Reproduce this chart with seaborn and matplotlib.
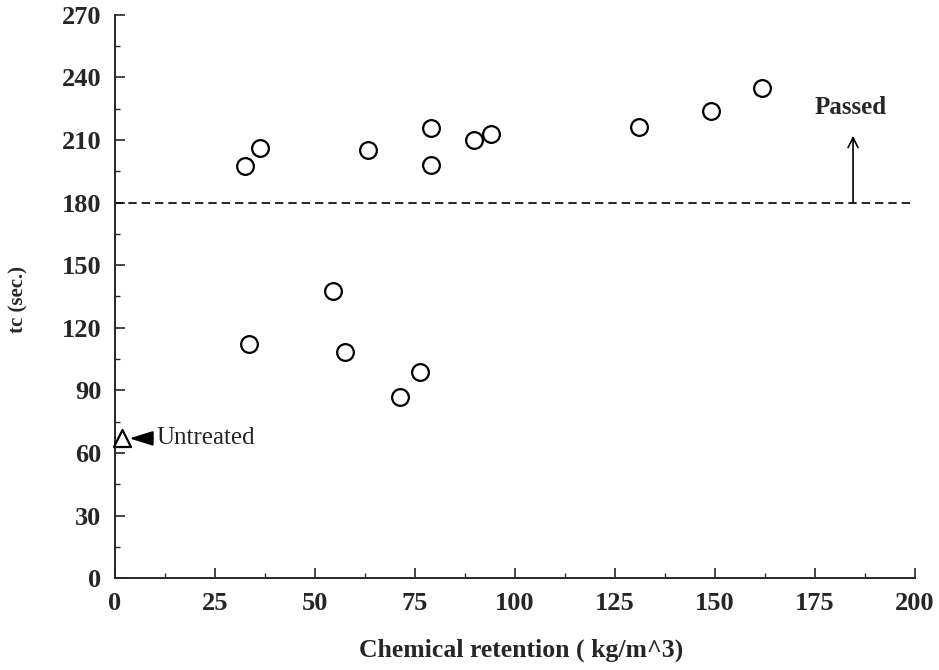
import pandas as pd
import seaborn as sns
import matplotlib.pyplot as plt
from matplotlib.ticker import MultipleLocator

# Treated specimens
retention = [32.5, 36.3, 63.3, 79.0, 79.0, 89.8, 94.0, 131.0, 149.0, 161.8,
             54.4, 33.5, 57.4, 76.3, 71.3]
tc = [197.5, 206.0, 205.0, 215.6, 198.0, 210.0, 213.0, 216.0, 224.0, 235.0,
      137.5, 112.0, 108.5, 99.0, 87.0]

# Untreated specimen
untreated_x = [1.7]
untreated_y = [67.0]

pass_limit = 180

sns.set_style("ticks")
plt.rcParams["font.family"] = ["Liberation Serif", "DejaVu Serif"]

data = pd.DataFrame({"retention": retention, "tc": tc})

fig = plt.figure(figsize=(9.39, 6.70), dpi=100)
ax = fig.add_axes([0.1225, 0.137, 0.852, 0.841])

sns.scatterplot(data=data, x="retention", y="tc", ax=ax, marker="o", s=145,
                facecolor="white", edgecolor="black", linewidth=1.6, zorder=3)
sns.scatterplot(x=untreated_x, y=untreated_y, ax=ax, marker="^", s=150,
                facecolor="white", edgecolor="black", linewidth=1.6, zorder=3,
                clip_on=False)

ax.axhline(pass_limit, color="black", ls=(0, (5, 3)), lw=1.2)

ax.annotate("Untreated", xy=(3.6, untreated_y[0]), xytext=(10.3, untreated_y[0]),
            va="center", ha="left", fontsize=18,
            arrowprops=dict(arrowstyle="-|>,head_length=0.8,head_width=0.25",
                            color="black", lw=1.4,
                            mutation_scale=18, shrinkA=0, shrinkB=0))
ax.annotate("", xy=(184.5, 212), xytext=(184.5, pass_limit),
            arrowprops=dict(arrowstyle="->", color="black", lw=1.2,
                            mutation_scale=18, shrinkA=0, shrinkB=0))
ax.text(184, 225.5, "Passed", ha="center", va="center", fontsize=18, fontweight="bold")

ax.set_xlim(0, 200)
ax.set_ylim(0, 270)
ax.xaxis.set_major_locator(MultipleLocator(25))
ax.xaxis.set_minor_locator(MultipleLocator(12.5))
ax.yaxis.set_major_locator(MultipleLocator(30))
ax.yaxis.set_minor_locator(MultipleLocator(15))
ax.tick_params(which="major", direction="in", length=7, width=1.2,
               labelsize=19, pad=10)
ax.tick_params(which="minor", direction="in", length=3.5, width=1.0)
for lab in ax.get_xticklabels() + ax.get_yticklabels():
    lab.set_fontweight("bold")

sns.despine(ax=ax)
ax.spines["left"].set_linewidth(1.4)
ax.spines["bottom"].set_linewidth(1.4)

ax.set_xlabel("Chemical retention ( kg/m^3)", fontsize=18.5, fontweight="bold")
ax.set_ylabel("tc (sec.)", fontsize=15, fontweight="bold")
ax.xaxis.set_label_coords(0.5075, -0.108)
ax.yaxis.set_label_coords(-0.108, 0.495)

fig.savefig("out.png", dpi=100, facecolor="white")
